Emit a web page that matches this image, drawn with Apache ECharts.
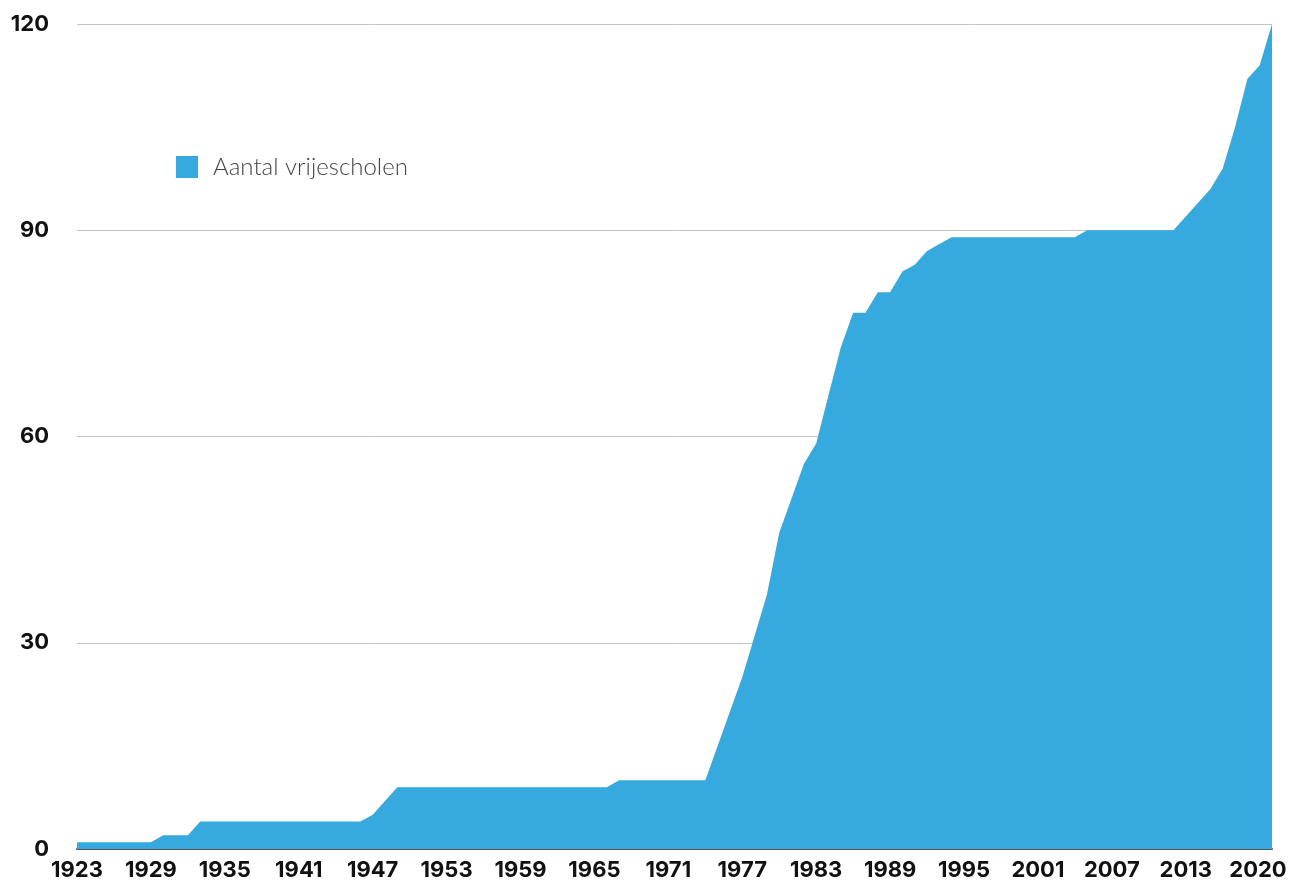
<!DOCTYPE html>
<html>
<head>
<meta charset="utf-8">
<script src="https://cdn.jsdelivr.net/npm/echarts@6/dist/echarts.min.js"></script>
<style>
  html, body { margin: 0; padding: 0; background: #fff; }
  #chart { width: 1304px; height: 881px; }
</style>
</head>
<body>
<div id="chart"></div>
<script>
// years on the x axis (1923 .. 2020)
const firstYear = 1923;
const lastYear = 2020;
const years = [];
for (let y = firstYear; y <= lastYear; y++) years.push(String(y));

// number of vrijescholen per year
const schools1923to1949 = [1, 1, 1, 1, 1, 1, 1, 2, 2, 2, 4, 4, 4, 4, 4, 4, 4, 4, 4, 4, 4, 4, 4, 4, 5, 7, 9];
const schools1950to1974 = [9, 9, 9, 9, 9, 9, 9, 9, 9, 9, 9, 9, 9, 9, 9, 9, 9, 10, 10, 10, 10, 10, 10, 10, 10];
const schools1975to1994 = [15, 20, 25, 31, 37, 46, 51, 56, 59, 66, 73, 78, 78, 81, 81, 84, 85, 87, 88, 89];
const schools1995to2020 = [89, 89, 89, 89, 89, 89, 89, 89, 89, 89, 90, 90, 90, 90, 90, 90, 90, 90, 92, 94, 96, 99, 105, 112, 114, 120];
const schools = [].concat(schools1923to1949, schools1950to1974, schools1975to1994, schools1995to2020);

const yTicks = [0, 30, 60, 90, 120];
const seriesName = 'Aantal vrijescholen';

const chart = echarts.init(document.getElementById('chart'));

const labelFont = {
  fontFamily: 'Inter',
  fontWeight: 700,
  fontSize: 22,
  color: '#111',
};

const option = {
  animation: false,
  backgroundColor: '#fff',
  grid: {
    left: 77,
    right: 32,
    top: 24,
    bottom: 32,
    containLabel: false,
  },
  legend: {
    show: true,
    left: 171,
    top: 150,
    icon: 'rect',
    itemWidth: 22,
    itemHeight: 22,
    itemGap: 10,
    textStyle: {
      fontFamily: 'Lato',
      fontWeight: 300,
      fontSize: 24,
      color: '#444',
      padding: [0, 0, 0, 10],
    },
    data: [seriesName],
  },
  xAxis: {
    type: 'category',
    data: years,
    boundaryGap: false,
    axisTick: { show: false },
    axisLine: {
      lineStyle: { color: '#555', width: 2 },
    },
    axisLabel: {
      ...labelFont,
      margin: 10,
      interval: (index) => (index % 6 === 0 && index < years.length - 2) || index === years.length - 1,
      formatter: (value, index) => (index === years.length - 1 ? '{last|' + value + '}' : value),
      rich: {
        last: { ...labelFont, padding: [0, 28, 0, 0] },
      },
    },
    splitLine: { show: false },
  },
  yAxis: {
    type: 'value',
    min: yTicks[0],
    max: yTicks[yTicks.length - 1],
    interval: 30,
    axisLine: { show: false },
    axisTick: { show: false },
    axisLabel: {
      ...labelFont,
      margin: 28,
    },
    splitLine: {
      lineStyle: { color: '#c4c4c4', width: 1 },
    },
  },
  series: [
    {
      name: seriesName,
      type: 'line',
      data: schools,
      showSymbol: false,
      symbol: 'none',
      itemStyle: { color: '#36a9df' },
      lineStyle: { width: 0, color: '#36a9df' },
      areaStyle: { color: '#36a9df', opacity: 1 },
    },
  ],
};

chart.setOption(option);
</script>
</body>
</html>
